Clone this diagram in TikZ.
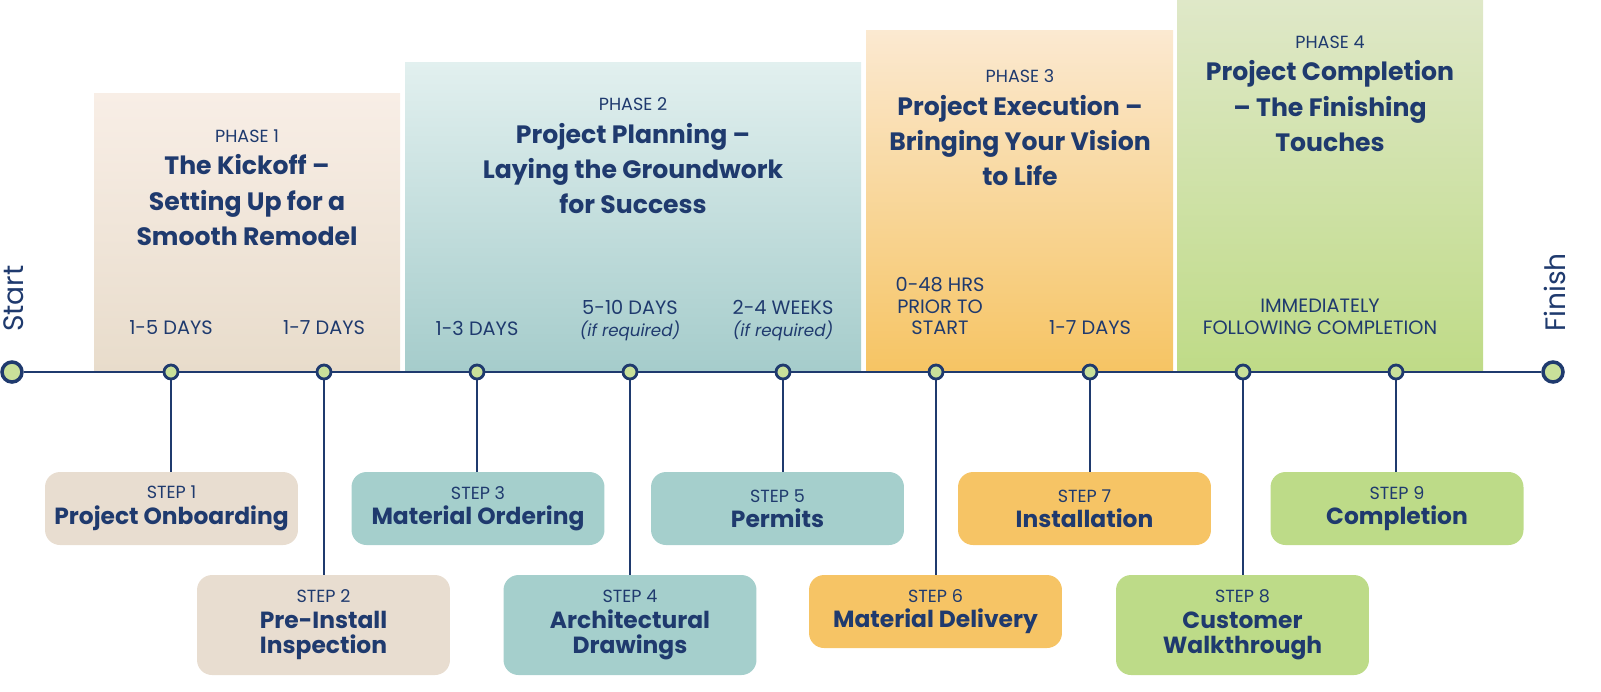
\documentclass[tikz,border=0pt]{standalone}
\usepackage{fontspec}
\setmainfont{Poppins}
\usetikzlibrary{positioning}
\definecolor{navy}{HTML}{1F3A6E}
\definecolor{dotgreen}{HTML}{C9E09A}
\begin{document}
\begin{tikzpicture}[x=0.02cm,y=-0.02cm,
  dot/.style={circle, draw=navy, line width=1.6pt, fill=dotgreen, inner sep=0pt, minimum size=0.28cm},
  endpt/.style={circle, draw=navy, line width=2pt, fill=dotgreen, inner sep=0pt, minimum size=0.4cm},
  stepbox/.style={rounded corners=0.3cm, minimum width=5.06cm, align=center, text=navy, font=\fontsize{13.3}{14.5}\selectfont\bfseries},
  short/.style={stepbox, minimum height=1.46cm},
  tall/.style={stepbox, minimum height=2cm},
  dur/.style={text=navy, align=center, font=\fontsize{11}{12.5}\selectfont},
  phase/.style={text=navy, align=center, font=\fontsize{10}{12}\selectfont},
  title/.style={text=navy, align=center, font=\fontsize{14.3}{20}\selectfont\bfseries},
  link/.style={navy, line width=1.2pt}
]
\useasboundingbox (0,0) rectangle (1601,691);

%phases
\shade[top color={rgb,255:red,248;green,238;blue,230}, bottom color={rgb,255:red,232;green,220;blue,203}] (94,93) rectangle (400,372);
\shade[top color={rgb,255:red,226;green,240;blue,239}, bottom color={rgb,255:red,165;green,204;blue,203}] (405,62) rectangle (861,372);
\shade[top color={rgb,255:red,251;green,233;blue,209}, bottom color={rgb,255:red,246;green,196;blue,99}] (866,30) rectangle (1173,372);
\shade[top color={rgb,255:red,223;green,232;blue,200}, bottom color={rgb,255:red,191;green,219;blue,135}] (1177,0) rectangle (1483,372);

\node[phase] (p1) at (247,136) {PHASE 1};
\node[title, below=0pt of p1] (t1) {The Kickoff –\\Setting Up for a\\Smooth Remodel};
\node[phase] (p2) at (633,104) {PHASE 2};
\node[title, below=0pt of p2] (t2) {Project Planning –\\Laying the Groundwork\\for Success};
\node[phase] (p3) at (1020,76) {PHASE 3};
\node[title, below=0pt of p3] (t3) {Project Execution –\\Bringing Your Vision\\to Life};
\node[phase] (p4) at (1330,42) {PHASE 4};
\node[title, below=0pt of p4] (t4) {Project Completion\\– The Finishing\\Touches};

%durations
\node[dur] (u1) at (171,328) {1-5 DAYS};
\node[dur] (u2) at (324,328) {1-7 DAYS};
\node[dur] (u3) at (477,328) {1-3 DAYS};
\node[dur] (u4) at (630,321) {5-10 DAYS\\{\fontsize{9.5}{11}\selectfont\itshape (if required)}};
\node[dur] (u5) at (783,321) {2-4 WEEKS\\{\fontsize{9.5}{11}\selectfont\itshape (if required)}};
\node[dur] (u6) at (940,306) {0-48 HRS\\PRIOR TO\\START};
\node[dur] (u7) at (1090,328) {1-7 DAYS};
\node[dur] (u8) at (1320,317) {IMMEDIATELY\\FOLLOWING COMPLETION};

%timeline
\node[endpt] (st) at (12,372) {};
\node[endpt] (fn) at (1553,372) {};
\node[rotate=90, text=navy, font=\fontsize{16}{16}\selectfont, anchor=west] at (14,338) {Start};
\node[rotate=90, text=navy, font=\fontsize{16}{16}\selectfont, anchor=west] at (1555,338) {Finish};
\draw[link] (st.east) -- (fn.west);

\foreach \i/\x in {1/171,2/324,3/477,4/630,5/783,6/936,7/1090,8/1243,9/1396}
  \node[dot] (d\i) at (\x,372) {};

%steps
\node[short, fill={rgb,255:red,232;green,221;blue,208}] (s1) at (171.5,508.5) {{\fontsize{10}{12}\selectfont\mdseries STEP 1}\\Project Onboarding};
\node[tall, fill={rgb,255:red,232;green,221;blue,208}] (s2) at (323.5,625) {{\fontsize{10}{12}\selectfont\mdseries STEP 2}\\Pre-Install\\Inspection};
\node[short, fill={rgb,255:red,165;green,207;blue,204}] (s3) at (478,508.5) {{\fontsize{10}{12}\selectfont\mdseries STEP 3}\\Material Ordering};
\node[tall, fill={rgb,255:red,165;green,207;blue,204}] (s4) at (630,625) {{\fontsize{10}{12}\selectfont\mdseries STEP 4}\\Architectural\\Drawings};
\node[short, fill={rgb,255:red,165;green,207;blue,204}] (s5) at (777.5,508.5) {{\fontsize{10}{12}\selectfont\mdseries STEP 5}\\Permits};
\node[short, fill={rgb,255:red,246;green,196;blue,101}] (s6) at (935.5,611.5) {{\fontsize{10}{12}\selectfont\mdseries STEP 6}\\Material Delivery};
\node[short, fill={rgb,255:red,246;green,196;blue,101}] (s7) at (1084.5,508.5) {{\fontsize{10}{12}\selectfont\mdseries STEP 7}\\Installation};
\node[tall, fill={rgb,255:red,189;green,219;blue,136}] (s8) at (1242.5,625) {{\fontsize{10}{12}\selectfont\mdseries STEP 8}\\Customer\\Walkthrough};
\node[short, fill={rgb,255:red,189;green,219;blue,136}] (s9) at (1397,508.5) {{\fontsize{10}{12}\selectfont\mdseries STEP 9}\\Completion};

\foreach \i in {1,...,9}
  \draw[link] (d\i.south) -- (d\i.south |- s\i.north);
\end{tikzpicture}
\end{document}
